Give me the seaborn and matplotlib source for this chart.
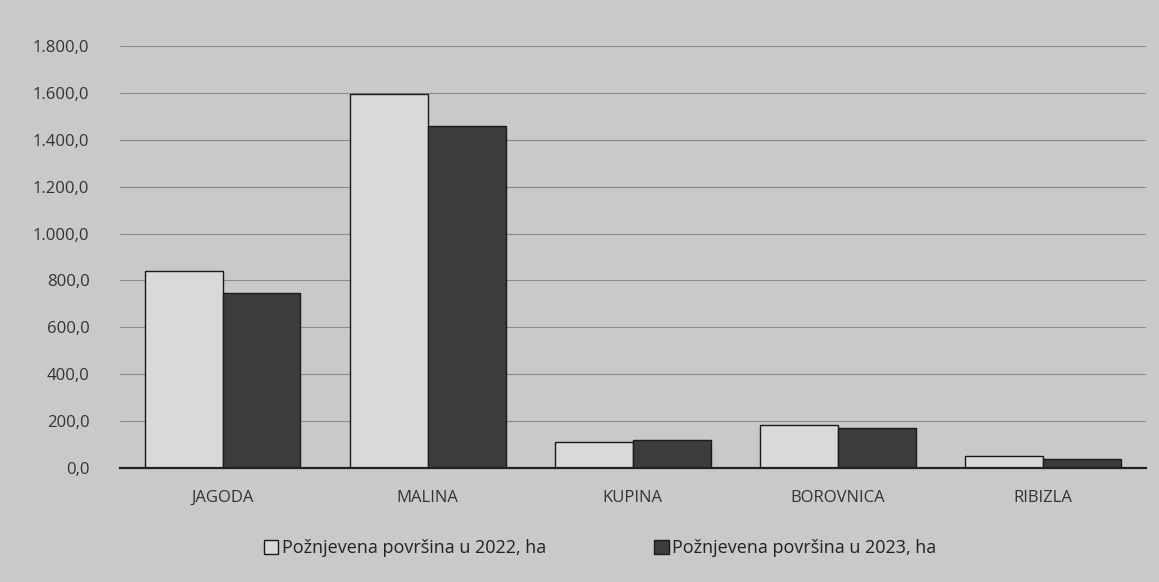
import pandas as pd
import seaborn as sns
import matplotlib.pyplot as plt
from matplotlib.ticker import FuncFormatter

categories = ["JAGODA", "MALINA", "KUPINA", "BOROVNICA", "RIBIZLA"]
area_2022 = [840, 1595, 110, 185, 50]
area_2023 = [748, 1460, 120, 172, 38]
series = ["Požnjevena površina u 2022, ha", "Požnjevena površina u 2023, ha"]
yticks = [0, 200, 400, 600, 800, 1000, 1200, 1400, 1600, 1800]

df = pd.DataFrame({
    "cat": categories * 2,
    "val": area_2022 + area_2023,
    "serija": [series[0]] * 5 + [series[1]] * 5,
})

sns.set_style("white")
plt.rcParams['font.family'] = ['Open Sans', 'DejaVu Sans']

bg = "#c9c9c9"
fig = plt.figure(figsize=(11.59, 5.82), dpi=100, facecolor=bg)
ax = fig.add_axes([0.1035, 0.196, 0.885, 0.725])
ax.set_facecolor(bg)

sns.barplot(data=df, x="cat", y="val", hue="serija", order=categories,
            hue_order=series, palette=["#d9d9d9", "#3c3c3c"], width=0.76,
            edgecolor="#1a1a1a", linewidth=1.0, saturation=1, ax=ax)

ax.set_ylim(0, 1800)
ax.set_yticks(yticks)
ax.yaxis.set_major_formatter(FuncFormatter(
    lambda v, p: f"{v:,.1f}".replace(",", "X").replace(".", ",").replace("X", ".")))
ax.grid(axis="y", color="#8a8a8a", linewidth=0.8)
ax.set_axisbelow(True)
for s in ["top", "right", "left"]:
    ax.spines[s].set_visible(False)
ax.spines["bottom"].set_color("#222222")
ax.spines["bottom"].set_linewidth(1.6)
ax.set_xlabel("")
ax.set_ylabel("")
ax.tick_params(axis="both", length=0, labelsize=12, colors="#333333")
ax.tick_params(axis="x", pad=16)
ax.tick_params(axis="y", pad=22)

ax.legend(loc="upper center", bbox_to_anchor=(0.468, -0.13), ncol=2, frameon=False,
          fontsize=13, handlelength=0.8, handleheight=0.8, handletextpad=0.2,
          columnspacing=6.0, labelcolor="#222222")

fig.savefig("out.png", dpi=100, facecolor=bg)
